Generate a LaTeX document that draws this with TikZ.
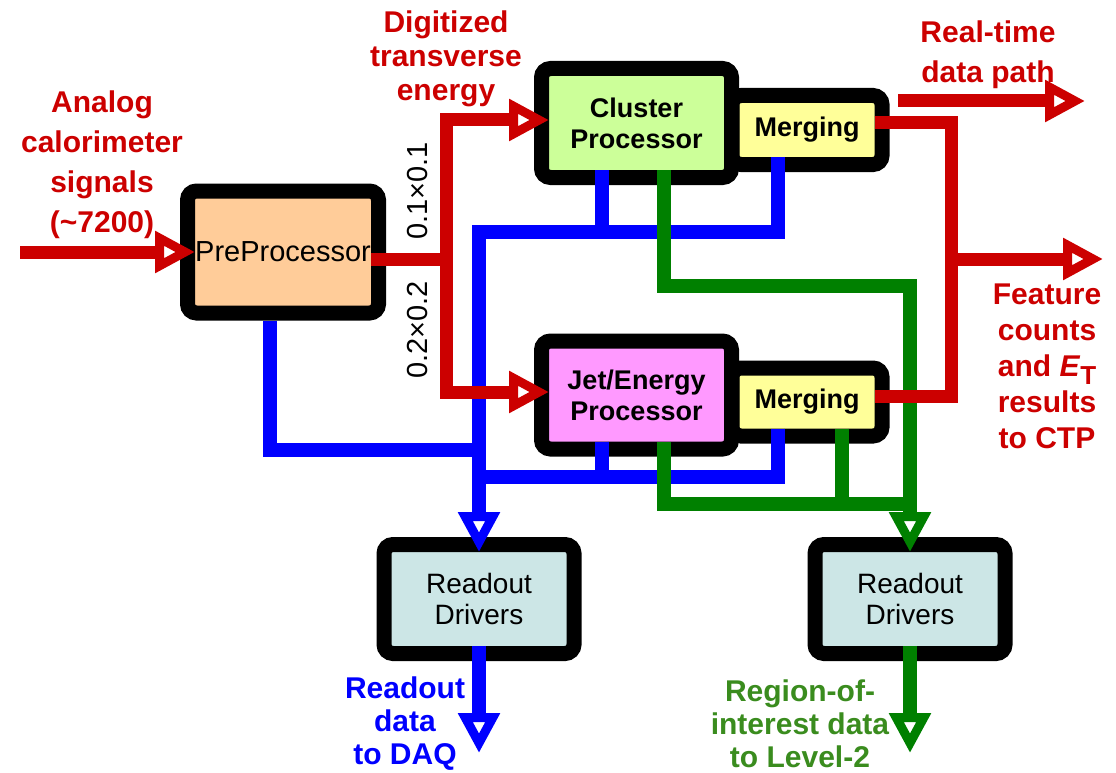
\documentclass[tikz,border=0pt]{standalone}
\usepackage{fontspec}
\setmainfont{Liberation Sans}
\usetikzlibrary{arrows.meta,calc}
\definecolor{lred}{RGB}{204,0,0}
\definecolor{lblue}{RGB}{0,0,255}
\definecolor{lgreen}{RGB}{0,128,0}
\definecolor{tgreen}{RGB}{58,140,30}
\definecolor{ppfill}{RGB}{255,204,153}
\definecolor{cpfill}{RGB}{204,255,153}
\definecolor{mgfill}{RGB}{255,255,153}
\definecolor{jpfill}{RGB}{255,153,255}
\definecolor{rdfill}{RGB}{204,230,230}
\newcommand{\boxfontb}{\fontsize{27}{31}\selectfont\bfseries}
\newcommand{\boxfontr}{\fontsize{28}{31}\selectfont}
\begin{document}
\begin{tikzpicture}[x=1pt,y=-1pt,
  box/.style={draw=black, line width=15pt, rounded corners=9pt, inner sep=0pt,
    outer sep=-7.5pt, align=center, font=\boxfontb},
  opentip/.style={-{Triangle[open,length=40pt,width=40pt,line width=9pt]}},
  redline/.style={draw=lred, line width=13pt},
  blueline/.style={draw=lblue, line width=14pt},
  greenline/.style={draw=lgreen, line width=14pt},
  lab/.style={align=center, inner sep=0pt, font=\bfseries},
]
\useasboundingbox (0,0) rectangle (1116,773);

% boxes
\node[box, fill=mgfill, minimum width=150pt, minimum height=69pt] (cm) at (807,130) {Merging};
\node[box, fill=mgfill, minimum width=150pt, minimum height=68pt] (jm) at (807,402) {Merging};
\node[box, fill=ppfill, minimum width=191pt, minimum height=122pt, font=\fontsize{29}{31}\selectfont] (pp) at (283,252) {PreProcessor};
\node[box, fill=cpfill, minimum width=190pt, minimum height=109pt] (cp) at (636.5,123) {Cluster\\Processor};
\node[box, fill=jpfill, minimum width=190pt, minimum height=108pt] (jp) at (636.5,395) {Jet/Energy\\Processor};
\node[box, fill=rdfill, minimum width=190pt, minimum height=109pt, font=\boxfontr] (rd1) at (479,599) {Readout\\Drivers};
\node[box, fill=rdfill, minimum width=190pt, minimum height=109pt, font=\boxfontr] (rd2) at (910,599) {Readout\\Drivers};

% junction coordinates
\coordinate (in) at (20,252);
\coordinate (split) at (446,259);
\coordinate (rsplit) at (951,259);
\coordinate (ctp) at (1103,259);
\coordinate (rt0) at (898,101);
\coordinate (rt1) at (1085,101);
\coordinate (bc1) at (602,232);
\coordinate (bm1) at (778,232);
\coordinate (bjoin) at (479,450);
\coordinate (bc2) at (602,477);
\coordinate (bm2) at (778,477);
\coordinate (bj3) at (479,477);
\coordinate (g1) at (664,286);
\coordinate (g2) at (664,504);
\coordinate (g3) at (910,504);
\coordinate (g4) at (842,504);
\coordinate (daq) at (479,753);
\coordinate (roi) at (910,753);

% blue
\draw[blueline] (cp.south -| bc1) -- (bc1);
\draw[blueline, opentip] (cm.south -| bm1) -- (bm1) -| (rd1.north);
\draw[blueline] ([xshift=-13pt,yshift=-15pt]pp.south) |- (bjoin);
\draw[blueline] (jp.south -| bc2) -- (bc2);
\draw[blueline] (jm.south -| bm2) -- (bm2) -- (bj3);
\draw[blueline, opentip] (rd1.south) -- (daq);

% green
\draw[greenline, opentip] (cp.south -| g1) -- (g1) -| (rd2.north);
\draw[greenline] (jp.south -| g2) -- (g2) -- (g3);
\draw[greenline] (jm.south -| g4) -- (g4);
\draw[greenline, opentip] (rd2.south) -- (roi);

% red
\draw[redline, opentip] (in) -- (pp.west);
\draw[redline] (pp.east |- split) -- (split);
\draw[redline, opentip] (split) |- ([yshift=3pt]cp.west);
\draw[redline, opentip] (split) |- ([yshift=3pt]jp.west);
\draw[redline] ([yshift=7pt]cm.east) -| (rsplit) |- ([yshift=6pt]jm.east);
\draw[redline, opentip] (rsplit) -- (ctp);
\draw[redline, opentip] (rt0) -- (rt1);

% labels
\node[lab, text=lred, font=\fontsize{30}{40}\selectfont\bfseries] (lana) at (102,165) {Analog\\calorimeter\\signals\\(\textasciitilde7200)};
\node[lab, text=lred, font=\fontsize{30}{34}\selectfont\bfseries] (ldig) at (446,58.5) {Digitized\\transverse\\energy};
\node[lab, text=lred, font=\fontsize{30}{40}\selectfont\bfseries] (lrt) at (988,55) {Real-time\\data path};
\node[lab, text=lred, font=\fontsize{30}{36}\selectfont\bfseries] (lfc) at (1047,366) {Feature\\counts\\and \textit{E}\raisebox{-8pt}{\fontsize{26}{26}\selectfont T}\\results\\to CTP};
\node[lab, text=lblue, font=\fontsize{30}{33}\selectfont\bfseries] (ldaq) at (405,724) {Readout\\data\\to DAQ};
\node[lab, text=tgreen, font=\fontsize{30}{33}\selectfont\bfseries] (lroi) at (800,724) {Region-of-\\interest data\\to Level-2};
\node[inner sep=0pt, rotate=90, font=\fontsize{29}{31}\selectfont] (g11) at (418,191) {0.1×0.1};
\node[inner sep=0pt, rotate=90, font=\fontsize{29}{31}\selectfont] (g22) at (418,330) {0.2×0.2};
\end{tikzpicture}
\end{document}
